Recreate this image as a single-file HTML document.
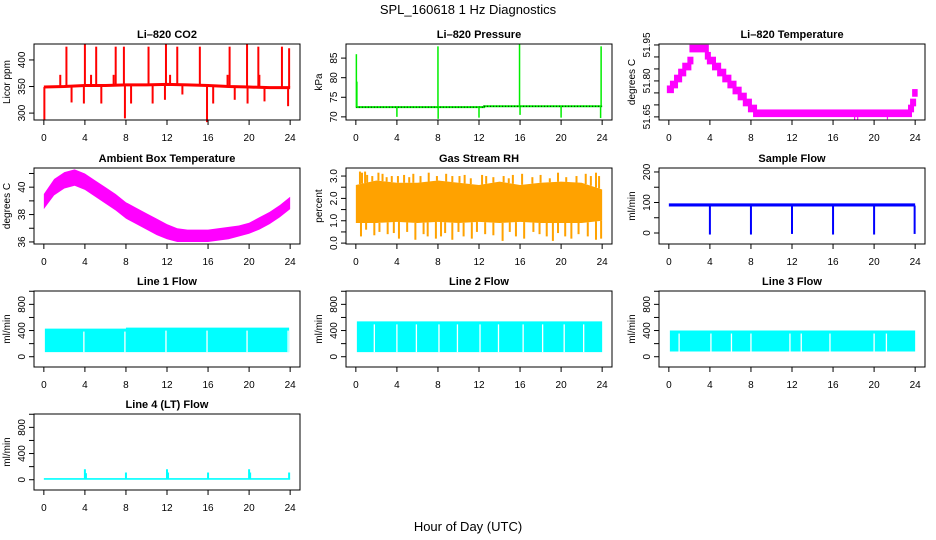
<!DOCTYPE html>
<html><head><meta charset="utf-8"><title>SPL_160618 1 Hz Diagnostics</title>
<style>
html,body{margin:0;padding:0;background:#fff;}
svg{display:block;font-family:"Liberation Sans",sans-serif;}
</style></head>
<body>
<svg id="chart" width="936" height="540" viewBox="0 0 936 540" xmlns="http://www.w3.org/2000/svg">
<text x="468" y="14" text-anchor="middle" font-size="13">SPL_160618  1 Hz Diagnostics</text>
<text x="468" y="531" text-anchor="middle" font-size="13">Hour of Day (UTC)</text>
</svg>
<script>
// ---------- data ----------
const xTicks = [0,4,8,12,16,20,24];
// CO2
const co2BaseHours = [0,2,4,6,8,10,12,14,16,18,20,22,24];
const co2BaseVals = [349,350,352,352,353,353,354,353,352,350,349,348,348];
const co2SpikeHours = [0.05,1.6,2.2,2.7,3.9,4.0,4.6,5.1,5.6,6.8,7.0,7.8,7.9,8.5,10.2,10.6,11.8,11.9,12.3,13.0,13.5,15.2,15.9,16.5,17.9,18.1,18.6,19.8,19.85,20.9,21.0,21.5,23.2,23.8,23.9];
const co2SpikeVals = [288,372,425,320,318,430,372,425,318,372,425,425,290,318,425,318,325,430,372,425,335,425,283,318,372,425,325,430,318,425,372,322,425,313,422];
// Pressure
const presBaseHours = [0,12.5,12.5,24];
const presBaseVals = [72.5,72.5,72.7,72.7];
const presSpikeHours = [0.05,0.1,4.0,8.0,8.02,12.0,15.95,16.0,20.0,23.85,23.9];
const presSpikeVals = [86,79,70,88,69.5,69.8,88.5,70.5,69.8,69.7,88];
// Li-820 temperature steps
const ltHours = [0,0.3,0.7,1.1,1.5,2.0,2.2,3.7,3.9,4.4,4.9,5.4,5.9,6.4,6.9,7.4,7.9,8.4,23.5,23.7,23.9];
const ltVals = [51.765,51.785,51.81,51.835,51.86,51.885,51.935,51.905,51.885,51.86,51.835,51.81,51.785,51.76,51.735,51.71,51.685,51.665,51.685,51.71,51.75];
const ltDipHours = [18.1,18.4,21.3];
const ltDipVals = [51.638,51.638,51.64];
// Ambient box temperature envelope
const ambHours = [0,1,2,3,4,5,6,7,8,9,10,11,12,13,14,15,16,17,18,19,20,21,22,23,24];
const ambLo = [38.4,39.4,39.9,40.1,39.8,39.3,38.8,38.3,37.7,37.3,36.9,36.5,36.2,36.0,36.0,36.0,36.0,36.1,36.2,36.4,36.6,36.9,37.3,37.8,38.4];
const ambHi = [39.5,40.6,41.1,41.3,41.0,40.5,40.0,39.5,38.9,38.5,38.1,37.7,37.3,37.0,36.9,36.9,36.9,37.0,37.1,37.2,37.4,37.8,38.2,38.7,39.3];
// Gas stream RH
const rhHours = [0,2,4,6,8,10,12,14,16,18,20,22,24];
const rhLo = [0.9,0.9,0.95,0.9,0.95,0.9,0.95,0.9,0.95,0.9,0.9,0.9,1.0];
const rhHi = [2.6,2.8,2.7,2.7,2.8,2.7,2.6,2.75,2.6,2.7,2.75,2.7,2.4];
const rhUpHours = [0.4,0.6,0.9,1.1,1.6,2.2,2.6,3.0,3.5,4.1,4.7,5.2,5.6,6.3,7.1,7.9,8.8,9.4,10.1,10.6,11.2,12.3,12.7,13.4,14.4,14.9,15.3,16.2,17.2,18.0,18.9,19.7,20.5,21.5,22.4,22.9,23.4,23.7];
const rhUpVals = [3.2,3.15,3.2,3.05,3.0,3.15,3.1,2.95,3.0,3.0,3.05,2.95,3.1,3.0,3.15,3.0,3.1,3.0,3.0,3.05,2.9,3.05,3.0,2.95,3.0,2.9,3.05,3.1,2.95,3.05,2.9,3.15,2.95,3.0,3.1,3.0,3.15,3.0];
const rhDnHours = [0.5,1.0,1.8,2.3,3.1,3.7,4.2,5.0,5.8,6.6,7.0,7.8,8.3,8.7,9.4,10.0,10.5,11.3,11.8,12.6,13.4,14.3,15.0,15.6,16.4,17.3,17.9,18.6,19.2,19.7,20.4,21.0,21.7,22.6,23.4,23.9];
const rhDnVals = [0.3,0.6,0.35,0.5,0.4,0.45,0.2,0.5,0.15,0.4,0.3,0.2,0.3,0.45,0.15,0.5,0.3,0.2,0.5,0.4,0.35,0.1,0.5,0.3,0.2,0.5,0.4,0.3,0.1,0.45,0.3,0.2,0.4,0.3,0.15,0.2];
// Sample flow
const sfHours = [0,24];
const sfLo = [87,87];
const sfHi = [97,97];
const sfDipHours = [4.0,8.0,12.0,16.0,20.0,23.95];
const sfDipVals = [-5,-5,-3,-5,-5,-3];
// Line flows
const l1Hours = [0.1,8,8,23.9];
const l1Lo = [70,70,70,70];
const l1Hi = [430,430,445,445];
const l1GapHours = [3.9,7.9,11.9,15.9,19.8,23.8];
const l2Hours = [0.1,24];
const l2Lo = [70,70];
const l2Hi = [540,540];
const l2GapHours = [1.8,4.0,5.9,8.1,9.9,12.1,13.9,16.3,18.2,20.3,22.2];
const l3Hours = [0.1,24];
const l3Lo = [80,80];
const l3Hi = [400,400];
const l3GapHours = [1.0,4.1,6.1,8.0,11.8,12.9,15.7,20.0,21.2];
const l4Hours = [0,24];
const l4Lo = [0,0];
const l4Hi = [25,25];
const l4SpikeHours = [4.0,4.1,8.0,12.0,12.1,16.0,20.0,20.1,23.9];
const l4SpikeVals = [160,100,110,160,110,110,160,110,110];

// ---------- helpers ----------
const NS = "http://www.w3.org/2000/svg";
const svg = document.getElementById('chart');
const RH_FILL = '#ffa200';
function el(tag, attrs, parent){
  const e = document.createElementNS(NS, tag);
  for (const k in attrs) e.setAttribute(k, attrs[k]);
  (parent||svg).appendChild(e);
  return e;
}
const PW = 266, PH = 76;
function makePanel(name, left, top, title, ylab, ymin, ymax, yTicks, yLabels){
  const g = el('g', {});
  
  
  const xr = 24*1.08, x0 = -24*0.04;
  const sx = h => left + (h - x0) / xr * PW;
  const sy = v => top + PH - (v - ymin) / (ymax - ymin) * PH;
  const plot = el('g', {}, g);
  
  
  const t = el('text', {x: left + PW/2, y: top - 6, 'text-anchor':'middle', 'font-size':'11', 'font-weight':'bold'}, g);
  t.textContent = title;
  
  
  const xa = el('g', {}, g);
  
  
  el('line', {x1: sx(0), x2: sx(24), y1: top+PH, y2: top+PH, stroke:'#000'}, xa);
  xTicks.forEach(h => {
    el('line', {x1: sx(h), x2: sx(h), y1: top+PH, y2: top+PH+5, stroke:'#000'}, xa);
    const tl = el('text', {x: sx(h), y: top+PH+21, 'text-anchor':'middle', 'font-size':'10'}, xa);
    tl.textContent = h;
    
    
  });
  const ya = el('g', {}, g);
  
  
  el('line', {x1: left, x2: left, y1: sy(yTicks[0]), y2: sy(yTicks[yTicks.length-1]), stroke:'#000'}, ya);
  yTicks.forEach(v => {
    el('line', {x1: left-5, x2: left, y1: sy(v), y2: sy(v), stroke:'#000'}, ya);
  });
  yLabels.forEach(lb => {
    const tx = left - 9, ty = sy(lb[0]);
    const tl = el('text', {x: tx, y: ty, 'text-anchor':'middle', 'font-size':'10', transform:'rotate(-90 '+tx+' '+ty+')'}, ya);
    tl.textContent = lb[1];
    
    
  });
  const yt = el('text', {x: left-24, y: top+PH/2, 'text-anchor':'middle', 'font-size':'10', transform:'rotate(-90 '+(left-24)+' '+(top+PH/2)+')'}, g);
  yt.textContent = ylab;
  
  
  return {g, plot, sx, sy, left, top, finish(){
    const b = el('rect', {x:left, y:top, width:PW, height:PH, fill:'none', stroke:'#000'}, g);
    
    
  }};
}
function poly(p, hours, lo, hi, fill){
  let pts = [];
  hours.forEach((h,i)=>pts.push(p.sx(h)+','+p.sy(hi[i])));
  for (let i=hours.length-1;i>=0;i--) pts.push(p.sx(hours[i])+','+p.sy(lo[i]));
  return el('polygon', {points: pts.join(' '), fill: fill}, p.plot);
}
function spikes(p, hours, vals, base, color, w){
  hours.forEach((h,i)=>{
    const s = el('line', {x1:p.sx(h), x2:p.sx(h), y1:p.sy(base(h)), y2:p.sy(vals[i]), stroke:color, 'stroke-width': w||1.5}, p.plot);
    
    
  });
}
function interp(hours, vals){
  return h => {
    for (let i=0;i<hours.length-1;i++) if (h>=hours[i] && h<=hours[i+1]) {
      const d = hours[i+1]-hours[i]; if (d===0) return vals[i+1];
      return vals[i] + (vals[i+1]-vals[i])*(h-hours[i])/d;
    }
    return vals[vals.length-1];
  };
}
function tk(arr){ return arr.map(v=>[v,String(v)]); }

const cols = [34, 346, 659];
const rows = [44, 168, 291, 414];

// ---- CO2 ----
let p = makePanel('co2', cols[0], rows[0], 'Li\u2013820 CO2', 'Licor ppm', 287, 430, [300,350,400], tk([300,350,400]));
{ const line = el('polyline', {points: co2BaseHours.map((h,i)=>p.sx(h)+','+p.sy(co2BaseVals[i])).join(' '), fill:'none', stroke:'#ff0000', 'stroke-width':3}, p.plot);
   
  spikes(p, co2SpikeHours, co2SpikeVals, interp(co2BaseHours, co2BaseVals), '#ff0000', 2); }
p.finish();

// ---- Pressure ----
p = makePanel('pressure', cols[1], rows[0], 'Li\u2013820 Pressure', 'kPa', 69.2, 88.6, [70,75,80,85], tk([70,75,80,85]));
{ const pts = presBaseHours.map((h,i)=>p.sx(h)+','+p.sy(presBaseVals[i])).join(' ');
  const line = el('polyline', {points: pts, fill:'none', stroke:'#00ee00', 'stroke-width':2}, p.plot);
   
  el('polyline', {points: pts, fill:'none', stroke:'#000', 'stroke-width':1, 'stroke-dasharray':'1 2'}, p.plot);
  spikes(p, presSpikeHours, presSpikeVals, interp(presBaseHours, presBaseVals), '#00ee00', 1.5); }
p.finish();

// ---- Li-820 Temperature ----
p = makePanel('li820-temp', cols[2], rows[0], 'Li\u2013820 Temperature', 'degrees C', 51.637, 51.954,
  [51.65,51.70,51.75,51.80,51.85,51.90,51.95], [[51.65,'51.65'],[51.80,'51.80'],[51.95,'51.95']]);
{ ltHours.forEach((h,i)=>{
    const h2 = i<ltHours.length-1 ? ltHours[i+1] : 24.05;
    const x1 = p.sx(h)-2, x2 = p.sx(h2)+2;
    const r = el('rect', {x:x1, y:p.sy(ltVals[i]+0.016), width:x2-x1, height:p.sy(ltVals[i]-0.016)-p.sy(ltVals[i]+0.016), fill:'#ff00ff'}, p.plot);
     
  });
  spikes(p, ltDipHours, ltDipVals, ()=>51.665, '#ff00ff', 1.2); }
p.finish();

// ---- Ambient ----
p = makePanel('ambient-temp', cols[0], rows[1], 'Ambient Box Temperature', 'degrees C', 35.85, 41.4, [36,37,38,39,40,41], tk([36,38,40]));
{ const e = poly(p, ambHours, ambLo, ambHi, '#ff00ff');
    }
p.finish();

// ---- RH ----
p = makePanel('rh', cols[1], rows[1], 'Gas Stream RH', 'percent', -0.04, 3.36, [0,0.5,1,1.5,2,2.5,3], [[0,'0.0'],[1,'1.0'],[2,'2.0'],[3,'3.0']]);
{ const e = poly(p, rhHours, rhLo, rhHi, RH_FILL);
   
  const hiF = interp(rhHours, rhHi), loF = interp(rhHours, rhLo);
  rhUpHours.forEach((h,i)=>{ const r = el('rect',{x:p.sx(h)-1,y:p.sy(rhUpVals[i]),width:2,height:p.sy(hiF(h))-p.sy(rhUpVals[i]),fill:RH_FILL},p.plot);
      });
  rhDnHours.forEach((h,i)=>{ const r = el('rect',{x:p.sx(h)-1,y:p.sy(loF(h)),width:2,height:p.sy(rhDnVals[i])-p.sy(loF(h)),fill:RH_FILL},p.plot);
      }); }
p.finish();

// ---- Sample Flow ----
p = makePanel('sample-flow', cols[2], rows[1], 'Sample Flow', 'ml/min', -36, 213, [0,50,100,150,200], tk([0,100,200]));
{ const e = poly(p, sfHours, sfLo, sfHi, '#0000ff');
   
  spikes(p, sfDipHours, sfDipVals, ()=>90, '#0000ff', 2); }
p.finish();

// ---- Line flows ----
function flowPanel(name, col, row, title, hours, lo, hi, gaps){
  const q = makePanel(name, cols[col], rows[row], title, 'ml/min', -157, 1004, [0,200,400,600,800,1000], tk([0,400,800]));
  const e = poly(q, hours, lo, hi, '#00ffff');
  
  
  (gaps||[]).forEach(h=>el('line',{x1:q.sx(h),x2:q.sx(h),y1:q.sy(interp(hours,hi)(h))+3,y2:q.sy(interp(hours,lo)(h)),stroke:'#fff','stroke-width':1.3},q.plot));
  return q;
}
p = flowPanel('line1-flow', 0, 2, 'Line 1 Flow', l1Hours, l1Lo, l1Hi, l1GapHours); p.finish();
p = flowPanel('line2-flow', 1, 2, 'Line 2 Flow', l2Hours, l2Lo, l2Hi, l2GapHours); p.finish();
p = flowPanel('line3-flow', 2, 2, 'Line 3 Flow', l3Hours, l3Lo, l3Hi, l3GapHours); p.finish();
p = flowPanel('line4-flow', 0, 3, 'Line 4 (LT) Flow', l4Hours, l4Lo, l4Hi, []);
spikes(p, l4SpikeHours, l4SpikeVals, ()=>20, '#00ffff', 2);
p.finish();
</script>
</body></html>
